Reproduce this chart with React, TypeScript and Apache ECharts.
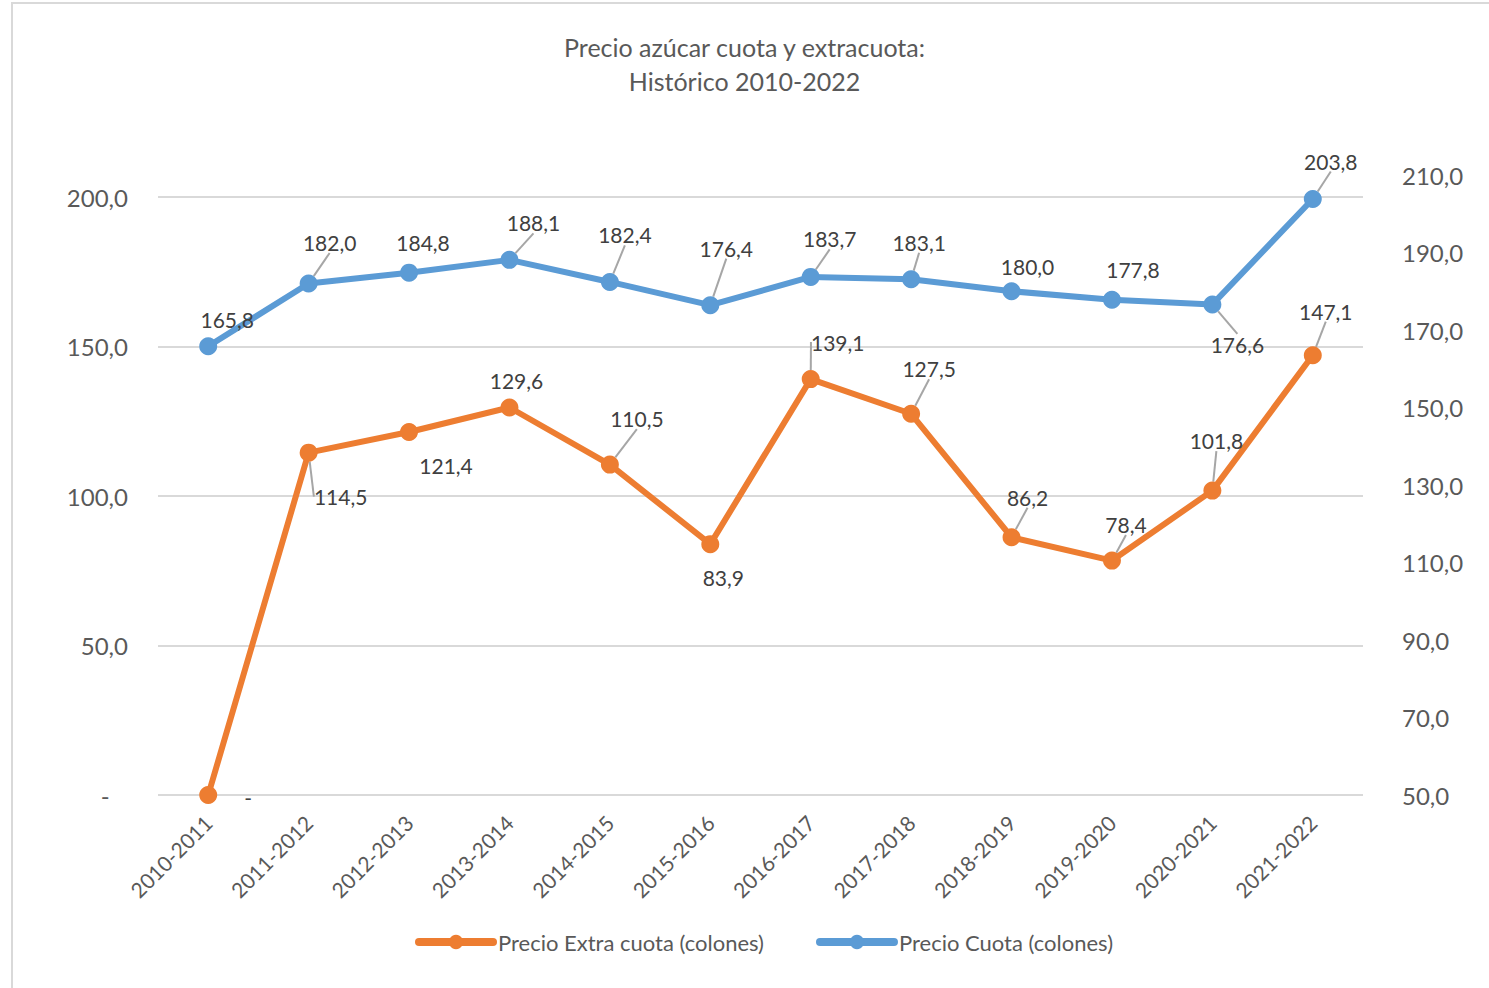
import React, { useEffect, useRef } from "react";
import * as echarts from "echarts";

const categories = [
  "2010-2011", "2011-2012", "2012-2013", "2013-2014", "2014-2015", "2015-2016",
  "2016-2017", "2017-2018", "2018-2019", "2019-2020", "2020-2021", "2021-2022",
];
const extraCuota = [0, 114.5, 121.4, 129.6, 110.5, 83.9, 139.1, 127.5, 86.2, 78.4, 101.8, 147.1];
const cuota = [165.8, 182.0, 184.8, 188.1, 182.4, 176.4, 183.7, 183.1, 180.0, 177.8, 176.6, 203.8];
const leftTicks = { min: 0, max: 200, interval: 50 };
const rightTicks = { min: 50, max: 210, interval: 20 };

// label placement offsets and leader-line visibility (layout only)
const cuotaLabelOffsets = [
  [19, -27], [21, -41], [14, -30], [24, -37], [15, -47], [16, -57],
  [19, -38], [8, -37], [16, -25], [21, -30], [25, 40], [18, -38],
];
const cuotaLeader = [false, true, false, true, true, true, true, true, false, false, true, true];
const extraLabelOffsets = [
  [40, 2], [32, 44], [37, 33], [7, -27], [27, -46], [13, 33],
  [27, -37], [18, -45], [16, -40], [14, -36], [4, -50], [13, -44],
];
const extraLeader = [false, true, false, false, true, false, true, true, true, true, true, true];

const FONT = "Lato, 'Noto Sans', sans-serif";
const ORANGE = "#ed7d31";
const BLUE = "#5b9bd5";
const fmt = (v: number) => (v === 0 ? "-\u00a0\u00a0\u00a0" : v.toFixed(1).replace(".", ","));
const fmtLabel = (v: number) => (v === 0 ? "-" : v.toFixed(1).replace(".", ","));

export default function App() {
  const ref = useRef<HTMLDivElement>(null);
  useEffect(() => {
    document.body.style.margin = "0";
    const chart = echarts.init(ref.current!, null, { renderer: "svg" });
    const commonLabel = {
      show: true,
      position: "inside",
      align: "center",
      verticalAlign: "middle",
      fontFamily: FONT,
      fontSize: 21,
      color: "#404040",
    };
    const leaderStyle = { color: "#a6a6a6", width: 2 };
    chart.setOption({
      animation: false,
      backgroundColor: "#ffffff",
      title: {
        text: "Precio azúcar cuota y extracuota:\nHistórico 2010-2022",
        left: "center",
        top: 25,
        textStyle: { fontFamily: FONT, fontSize: 25, lineHeight: 34, color: "#595959", fontWeight: "normal" },
      },
      graphic: [
        {
          type: "rect",
          shape: { x: 12, y: 3, width: 1500, height: 1000 },
          style: { fill: "none", stroke: "#d9d9d9", lineWidth: 2 },
          silent: true,
          z: -10,
        },
      ],
      legend: {
        bottom: 30,
        left: 410,
        itemWidth: 74,
        itemHeight: 18,
        itemGap: 52,
        lineStyle: { width: 8, cap: "round" },
        textStyle: { fontFamily: FONT, fontSize: 22, color: "#595959" },
        data: ["Precio Extra cuota (colones)", "Precio Cuota (colones)"],
      },
      grid: [
        { left: 158, right: 126, top: 197, bottom: 193 },
        { left: 158, right: 126, top: 175, bottom: 193 },
      ],
      xAxis: [
        {
          type: "category",
          gridIndex: 0,
          data: categories,
          boundaryGap: true,
          axisLine: { show: false },
          axisTick: { show: false },
          axisLabel: {
            rotate: 45,
            interval: 0,
            margin: 24,
            fontFamily: FONT,
            fontSize: 21,
            color: "#595959",
          },
        },
        {
          type: "category",
          gridIndex: 1,
          data: categories,
          boundaryGap: true,
          show: false,
        },
      ],
      yAxis: [
        {
          type: "value",
          gridIndex: 0,
          position: "left",
          min: leftTicks.min,
          max: leftTicks.max,
          interval: leftTicks.interval,
          axisLine: { show: false },
          axisTick: { show: false },
          splitLine: { show: true, lineStyle: { color: "#d9d9d9", width: 2 } },
          axisLabel: { formatter: fmt, margin: 30, fontFamily: FONT, fontSize: 24, color: "#595959" },
        },
        {
          type: "value",
          gridIndex: 1,
          position: "right",
          min: rightTicks.min,
          max: rightTicks.max,
          interval: rightTicks.interval,
          axisLine: { show: false },
          axisTick: { show: false },
          splitLine: { show: false },
          axisLabel: { formatter: fmt, margin: 39, fontFamily: FONT, fontSize: 24, color: "#595959" },
        },
      ],
      series: [
        {
          name: "Precio Cuota (colones)",
          type: "line",
          xAxisIndex: 1,
          yAxisIndex: 1,
          data: cuota.map((v, i) => ({ value: v, labelLine: { show: cuotaLeader[i] } })),
          symbol: "circle",
          symbolSize: 18,
          lineStyle: { color: BLUE, width: 6 },
          itemStyle: { color: BLUE },
          label: { ...commonLabel, formatter: (p: any) => fmtLabel(p.value) },
          labelLayout: (p: any) => ({ dx: cuotaLabelOffsets[p.dataIndex][0], dy: cuotaLabelOffsets[p.dataIndex][1] }),
          labelLine: { show: true, lineStyle: leaderStyle },
          z: 2,
        },
        {
          name: "Precio Extra cuota (colones)",
          type: "line",
          xAxisIndex: 0,
          yAxisIndex: 0,
          data: extraCuota.map((v, i) => ({ value: v, labelLine: { show: extraLeader[i] } })),
          symbol: "circle",
          symbolSize: 18,
          lineStyle: { color: ORANGE, width: 6 },
          itemStyle: { color: ORANGE },
          label: { ...commonLabel, formatter: (p: any) => fmtLabel(p.value) },
          labelLayout: (p: any) => ({ dx: extraLabelOffsets[p.dataIndex][0], dy: extraLabelOffsets[p.dataIndex][1] }),
          labelLine: { show: true, lineStyle: leaderStyle },
          z: 3,
        },
      ],
    });
    return () => chart.dispose();
  }, []);
  return <div ref={ref} style={{ position: "absolute", left: 0, top: 0, width: 1489, height: 988 }} />;
}
